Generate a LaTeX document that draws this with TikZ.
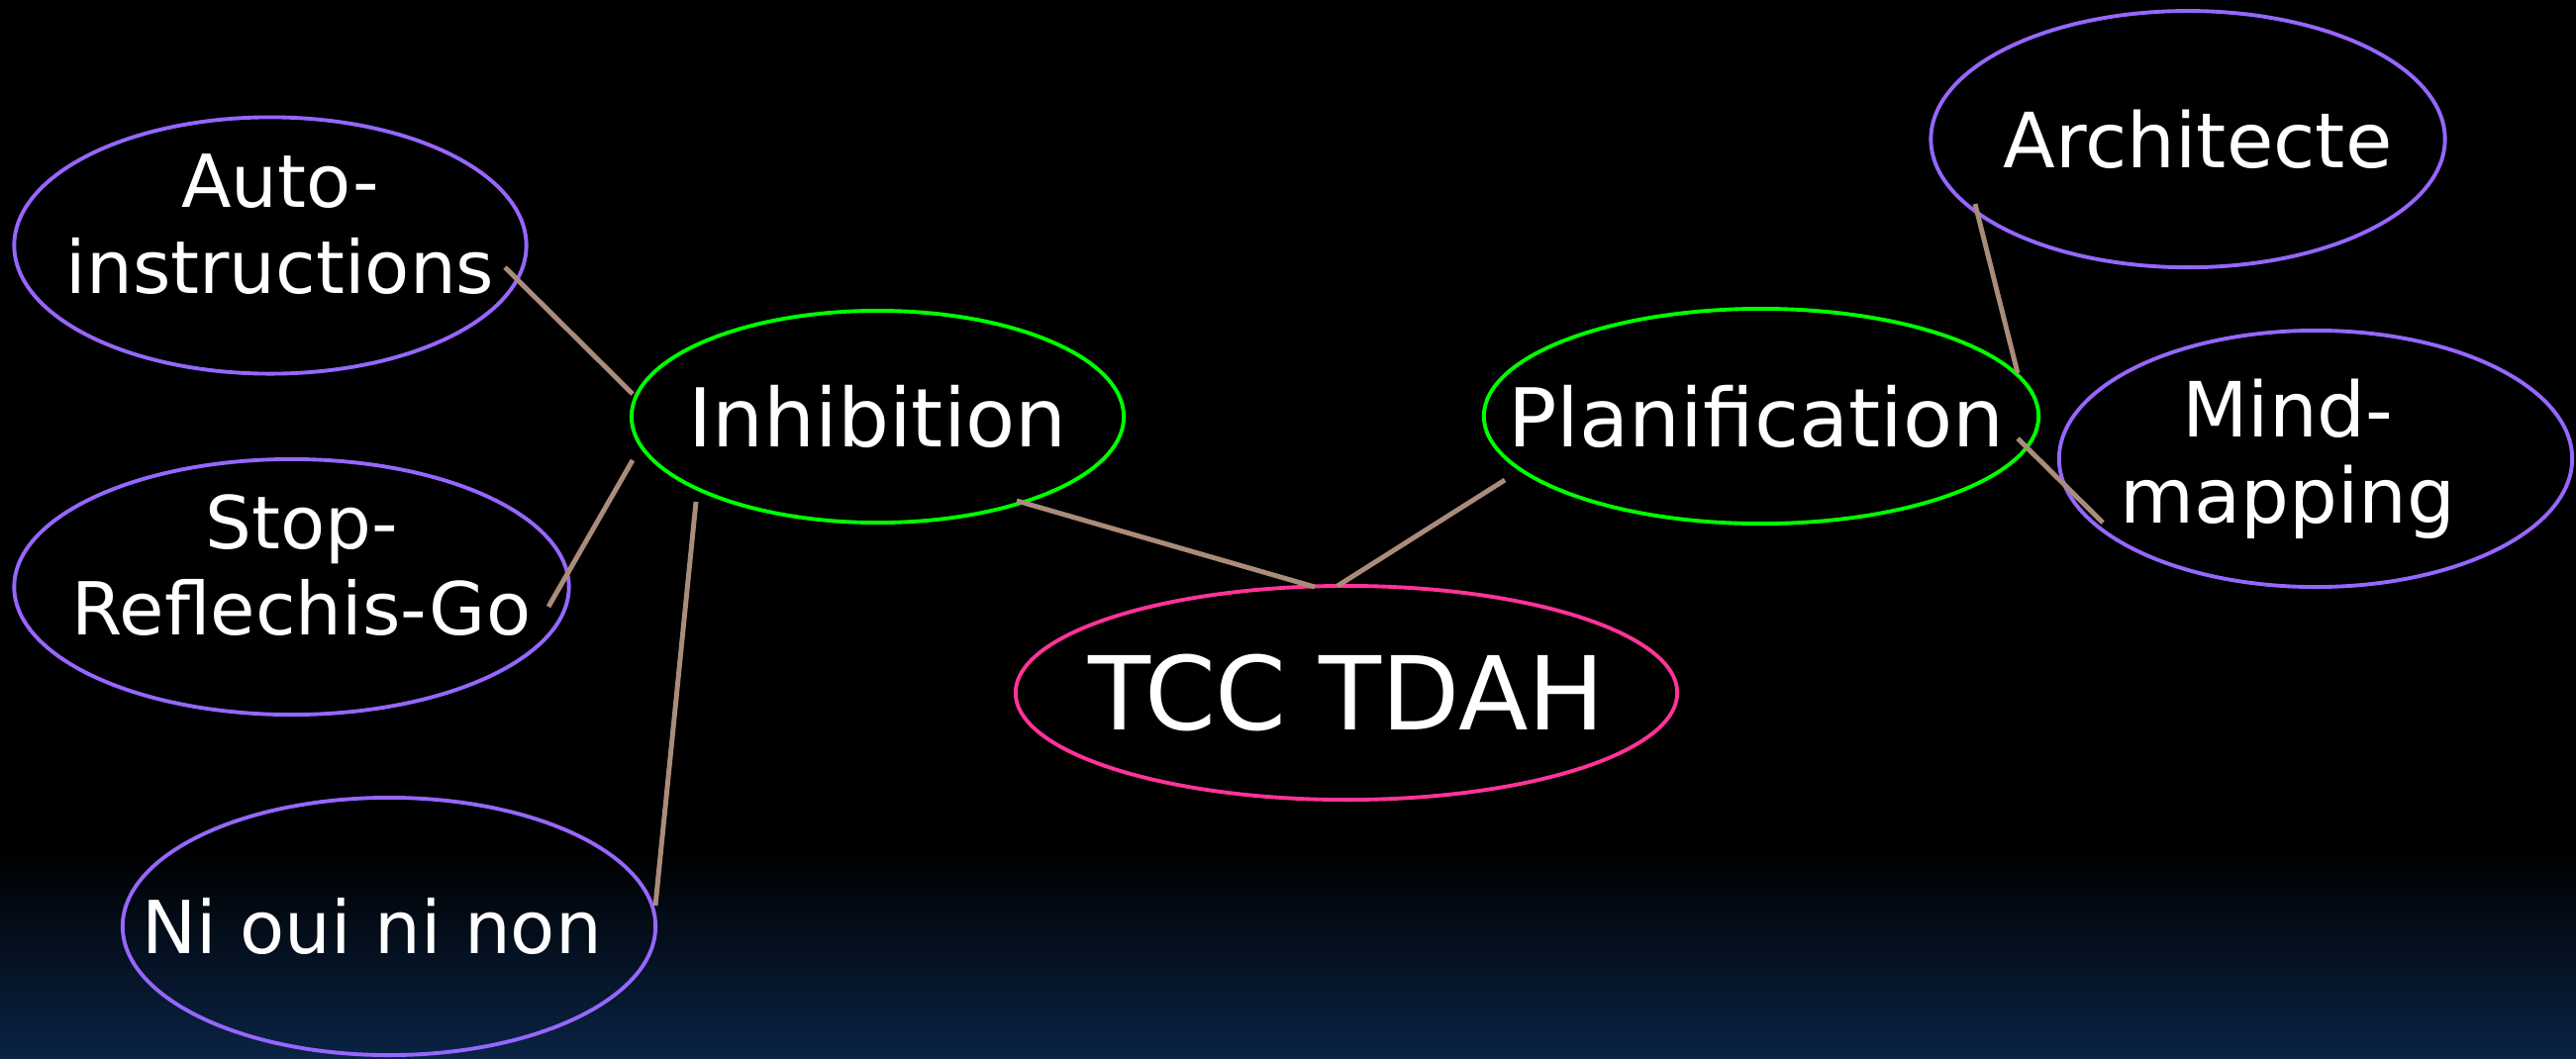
\documentclass[tikz,border=0pt]{standalone}
\usepackage{fontspec}
\setmainfont{DejaVu Sans}
\usetikzlibrary{shapes.geometric,calc}

\definecolor{leafpurple}{RGB}{150,102,255}
\definecolor{midgreen}{RGB}{0,255,0}
\definecolor{rootpink}{RGB}{255,51,153}
\definecolor{linktan}{RGB}{170,140,122}
\definecolor{bgnavy}{RGB}{10,35,68}

\newcommand{\dpfix}{\rule[-12.5pt]{0pt}{0pt}}

\begin{document}
\begin{tikzpicture}[x=0.01cm,y=-0.01cm]
        \tikzstyle{every node} = [ellipse, inner sep=-3cm, text=white, line width=1.1pt, align=center]
        \tikzstyle{leaf} = [draw=leafpurple, font=\fontsize{21}{24.75}\selectfont]
        \tikzstyle{leafr} = [leaf, font=\fontsize{21.9}{24.75}\selectfont]
        \tikzstyle{mid} = [draw=midgreen, font=\fontsize{23.3}{28}\selectfont]
        \tikzstyle{root} = [draw=rootpink, font=\fontsize{29.3}{35}\selectfont]
        \tikzstyle{link} = [draw=linktan, line width=1.4pt]
        % background
        \useasboundingbox (0,0) rectangle (2602,1069);
        \fill[black] (0,0) rectangle (2602,861);
        \shade[top color=black, bottom color=bgnavy] (0,860) rectangle (2602,1069);
        % left branch
        \node[leaf, minimum width=5.17cm, minimum height=2.59cm] (auto) at (273,248) {\hspace*{5.7pt}Auto-\\\hspace*{5.7pt}instructions\dpfix};
        \node[leaf, minimum width=5.6cm, minimum height=2.58cm] (stop) at (294.5,593) {\hspace*{5.7pt}Stop-\\\hspace*{5.7pt}Reflechis-Go\dpfix};
        \node[leaf, minimum width=5.38cm, minimum height=2.6cm] (ni) at (393,936) {Ni oui ni non\hspace*{10pt}};
        \node[mid, minimum width=4.97cm, minimum height=2.14cm] (inh) at (886.5,421) {Inhibition};
        % centre
        \node[root, minimum width=6.68cm, minimum height=2.16cm] (tcc) at (1360,700) {TCC TDAH};
        % right branch
        \node[mid, minimum width=5.6cm, minimum height=2.17cm] (plan) at (1779,420.5) {Planification\hspace*{3pt}};
        \node[leafr, minimum width=5.19cm, minimum height=2.59cm] (arch) at (2210,140.6) {\hspace*{5.7pt}Architecte};
        \node[leafr, minimum width=5.18cm, minimum height=2.59cm] (mind) at (2339,463.5) {Mind-\hspace*{16pt}\\mapping\hspace*{16pt}};
        \draw[link] ($(auto)+(237,22)$) -- ($(inh)+(-247.5,-23)$);
        \draw[link] ($(stop)+(259.5,20)$) -- ($(inh)+(-247.5,44)$);
        \draw[link] ($(ni)+(269,-21)$) -- ($(inh)+(-183.5,86)$);
        \draw[link] ($(inh)+(140.5,85)$) -- ($(tcc)+(-32,-107)$);
        \draw[link] ($(plan)+(-259,64.5)$) -- ($(tcc)+(-9,-108)$);
        \draw[link] ($(arch)+(-215,65.4)$) -- ($(plan)+(259,-43.5)$);
        \draw[link] ($(plan)+(259,22.5)$) -- ($(mind)+(-215,64.5)$);
\end{tikzpicture}
\end{document}
